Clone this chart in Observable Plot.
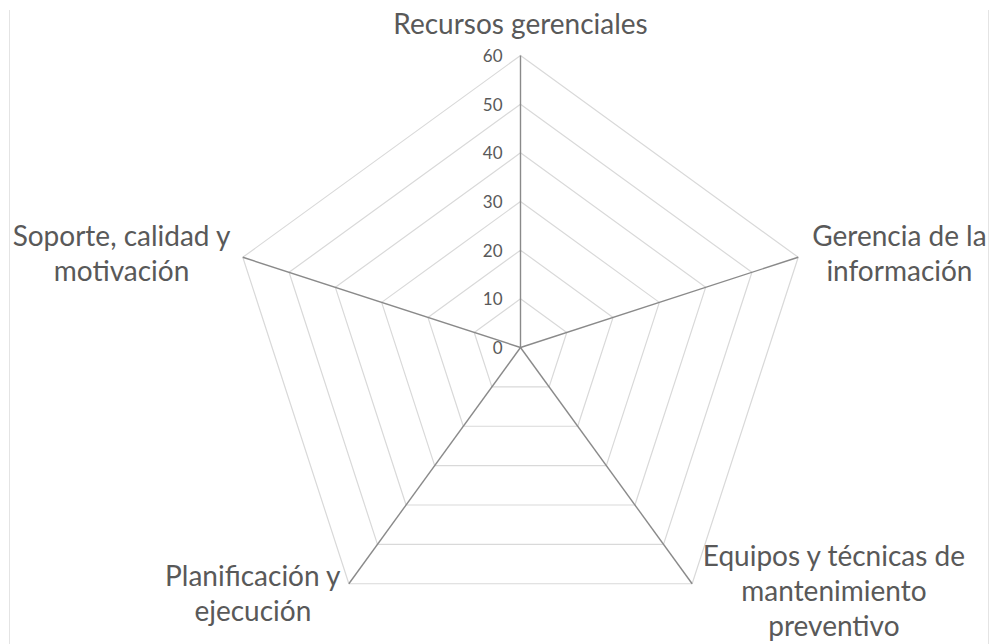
<!DOCTYPE html>
<html><head><meta charset="utf-8">
<script src="https://cdn.jsdelivr.net/npm/d3@7"></script>
<script src="https://cdn.jsdelivr.net/npm/@observablehq/plot@0.6"></script>
<style>
html,body{margin:0;padding:0;background:#fff;}
#wrap{position:relative;width:992px;height:644px;overflow:hidden;}
.edge{position:absolute;top:10px;bottom:0;width:1px;background:#e4e4e4;}
#chart{position:absolute;left:0;top:0;}
</style></head><body>
<div id="wrap"><div id="chart"></div><div class="edge" style="left:9px"></div><div class="edge" style="left:988px"></div></div>
<script>
// ---- data ----
const categories = [
  "Recursos gerenciales",
  "Gerencia de la\ninformación",
  "Equipos y técnicas de\nmantenimiento\npreventivo",
  "Planificación y\nejecución",
  "Soporte, calidad y\nmotivación"
];
const values = [0, 0, 0, 0, 0];
const tickValues = [0, 10, 20, 30, 40, 50, 60];
const maxValue = 60;

// ---- layout ----
const W = 992, H = 644, cx = 520, cy = 347, R = 292;
const k = R / maxValue;            // px per unit
const n = categories.length;
const ang = i => 2 * Math.PI * i / n;
const vx = (i, v) => v * Math.sin(ang(i));
const vy = (i, v) => v * Math.cos(ang(i));

const FONT = "Lato, 'Open Sans', sans-serif";
const labelSize = 28, tickSize = 17;
const textColor = "#595959";

const ctx = document.createElement("canvas").getContext("2d");
ctx.font = `${labelSize}px Lato`;
const blockWidth = s => Math.max(...s.split("\n").map(l => ctx.measureText(l).width));

// grid polygons
const grid = [];
tickValues.filter(t => t > 0).forEach(t => {
  for (let i = 0; i <= n; i++) grid.push({level: t, x: vx(i % n, t), y: vy(i % n, t)});
});
const spokes = categories.map((c, i) => ({x2: vx(i, maxValue), y2: vy(i, maxValue)}));
const series = values.concat(values[0]).map((v, i) => ({x: vx(i % n, v), y: vy(i % n, v)}));

// label anchors (px offsets from vertex, then to data units)
const labels = categories.map((c, i) => {
  const x0 = vx(i, maxValue), y0 = vy(i, maxValue);
  const w = blockWidth(c);
  const s = Math.sin(ang(i)), co = Math.cos(ang(i));
  let dxp = 0, dyp = 0;
  if (Math.abs(s) < 1e-6) { dyp = 33; }
  else {
    const gap = co > 0 ? (s > 0 ? 14 : 12) : (s > 0 ? 10 : 8);
    dxp = Math.sign(s) * (gap + w / 2);
    dyp = co > 0 ? 5 : (s > 0 ? -6 : -9);
  }
  return {text: c, x: x0 + dxp / k, y: y0 + dyp / k};
});

const chart = Plot.plot({
  width: W, height: H,
  margin: 0,
  x: {domain: [-cx / k, (W - cx) / k], axis: null},
  y: {domain: [-(H - cy) / k, cy / k], axis: null},
  style: {background: "transparent", fontFamily: FONT},
  marks: [
    Plot.line(grid, {x: "x", y: "y", z: "level", stroke: "#d9d9d9", strokeWidth: 1.2, strokeLinejoin: "miter"}),
    Plot.link(spokes, {x1: 0, y1: 0, x2: "x2", y2: "y2", stroke: "#8a8a8a", strokeWidth: 1.4}),
    Plot.line(series, {x: "x", y: "y", stroke: "#8a8a8a", strokeWidth: 1.4}),
    Plot.text(tickValues, {x: 0, y: d => d, text: d => String(d), textAnchor: "end", dx: -18, dy: 1,
      fontSize: tickSize, fill: textColor, fontFamily: FONT}),
    Plot.text(labels, {x: "x", y: "y", text: "text", textAnchor: "middle", lineAnchor: "middle",
      lineHeight: 1.25, fontSize: labelSize, fill: textColor, fontFamily: FONT})
  ]
});
document.getElementById("chart").appendChild(chart);
</script>
</body></html>
